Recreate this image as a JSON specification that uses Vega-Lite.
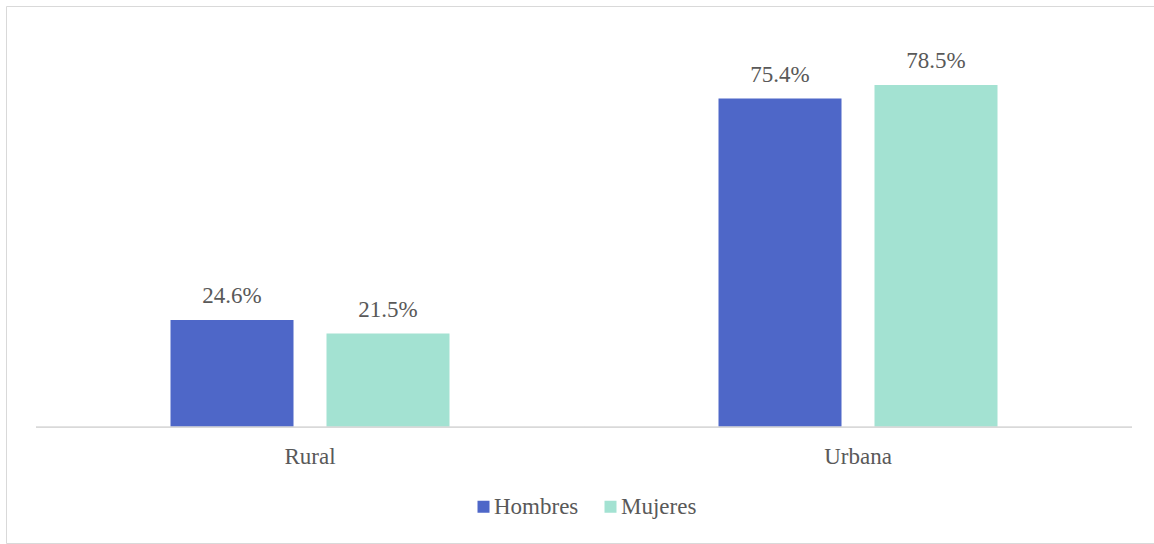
{
  "$schema": "https://vega.github.io/schema/vega-lite/v6.json",
  "autosize": {"type": "none"},
  "padding": {"left": 6, "top": 6, "right": 0, "bottom": 1},
  "width": 1148,
  "height": 537,
  "background": "white",
  "config": {
    "view": {"stroke": "#d9d9d9", "strokeWidth": 1},
    "font": "Liberation Serif"
  },
  "data": {
    "values": [
      {"area": "Rural", "sexo": "Hombres", "valor": 0.246},
      {"area": "Rural", "sexo": "Mujeres", "valor": 0.215},
      {"area": "Urbana", "sexo": "Hombres", "valor": 0.754},
      {"area": "Urbana", "sexo": "Mujeres", "valor": 0.785}
    ]
  },
  "encoding": {
    "x": {
      "field": "area",
      "type": "nominal",
      "sort": ["Rural", "Urbana"],
      "scale": {"paddingInner": 0, "paddingOuter": 0.04745, "align": 0.577},
      "axis": {
        "title": null,
        "orient": "bottom",
        "offset": -116,
        "domain": false,
        "ticks": false,
        "grid": false,
        "labelAngle": 0,
        "labelFont": "Liberation Serif",
        "labelFontSize": 23,
        "labelColor": "#595959",
        "labelBaseline": "alphabetic",
        "labelPadding": 36
      }
    }
  },
  "layer": [
    {
      "mark": {"type": "bar"},
      "encoding": {
        "xOffset": {
          "field": "sexo",
          "type": "nominal",
          "sort": ["Hombres", "Mujeres"],
          "scale": {"paddingInner": 0.2115, "paddingOuter": 0.8622}
        },
        "y": {
          "field": "valor",
          "type": "quantitative",
          "stack": null,
          "scale": {"domain": [-0.2654, 0.9663], "nice": false, "zero": false},
          "axis": null
        },
        "color": {
          "field": "sexo",
          "type": "nominal",
          "sort": ["Hombres", "Mujeres"],
          "scale": {"domain": ["Hombres", "Mujeres"], "range": ["#4E67C8", "#A3E2D2"]},
          "legend": {
            "title": null,
            "orient": "none",
            "legendX": 466,
            "legendY": 489,
            "direction": "horizontal",
            "symbolType": "square",
            "symbolSize": 144,
            "symbolStrokeWidth": 0,
            "symbolOpacity": 1,
            "labelFont": "Liberation Serif",
            "labelFontSize": 23,
            "labelColor": "#595959",
            "labelOffset": -1,
            "columnPadding": 20
          }
        }
      }
    },
    {
      "mark": {
        "type": "text",
        "font": "Liberation Serif",
        "fontSize": 23,
        "color": "#595959",
        "baseline": "alphabetic",
        "dy": -17
      },
      "encoding": {
        "xOffset": {"field": "sexo", "type": "nominal", "sort": ["Hombres", "Mujeres"]},
        "y": {"field": "valor", "type": "quantitative"},
        "text": {"field": "valor", "type": "quantitative", "format": ".1%"}
      }
    },
    {
      "mark": {"type": "rule", "color": "#d9d9d9", "strokeWidth": 1.5},
      "encoding": {
        "x": {"field": "area", "type": "nominal", "bandPosition": 0},
        "x2": {"field": "area", "bandPosition": 1},
        "y": {"datum": 0, "type": "quantitative"}
      }
    }
  ]
}
